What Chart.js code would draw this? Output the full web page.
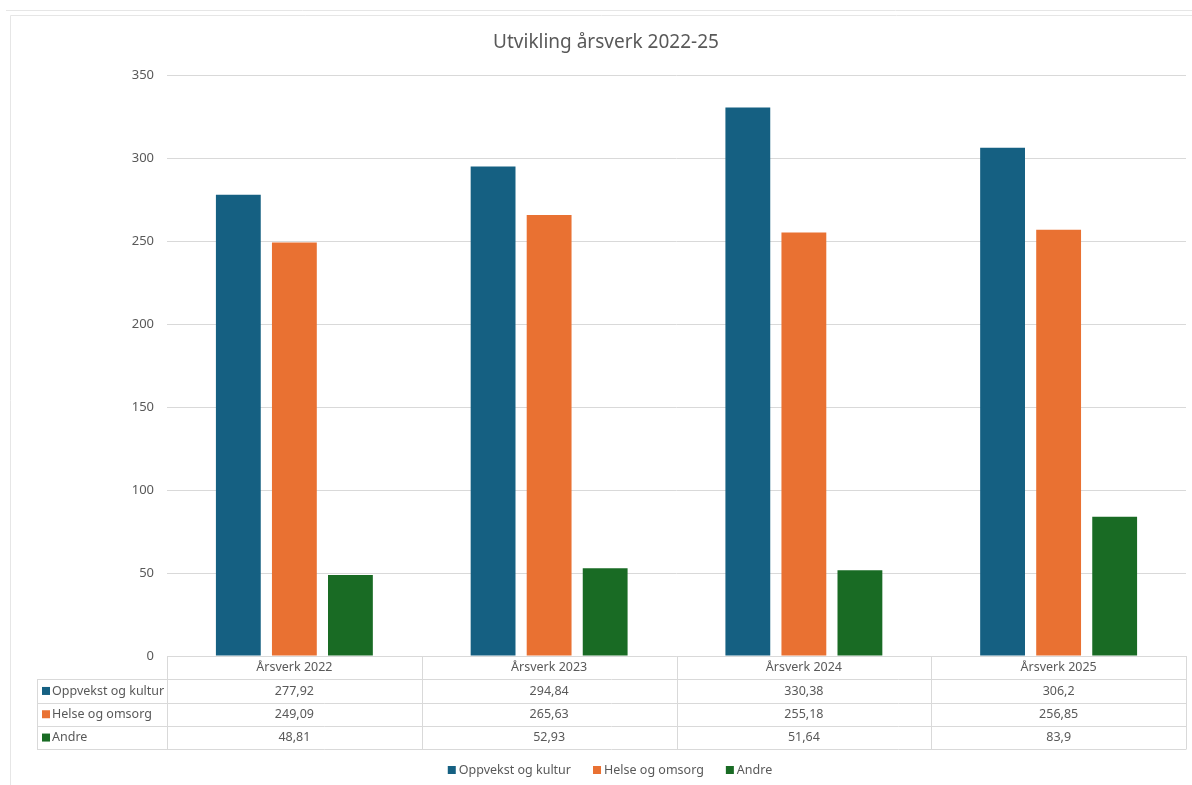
<!DOCTYPE html>
<html>
<head>
<meta charset="utf-8">
<script src="https://cdn.jsdelivr.net/npm/chart.js@4.4.0/dist/chart.umd.min.js"></script>
<style>
  html, body { margin: 0; padding: 0; background: #fff; }
  #wrap { width: 1192px; height: 785px; }
</style>
</head>
<body>
<div id="wrap"><canvas id="chartArsverk" width="1192" height="785"></canvas></div>
<script>
/* data */
const categories = ["Årsverk 2022", "Årsverk 2023", "Årsverk 2024", "Årsverk 2025"];
const oppvekst = [277.92, 294.84, 330.38, 306.2];
const helse = [249.09, 265.63, 255.18, 256.85];
const andre = [48.81, 52.93, 51.64, 83.9];
const yTicks = [0, 50, 100, 150, 200, 250, 300, 350];
const chartTitle = "Utvikling årsverk 2022-25";

const FONT = "'Noto Sans', sans-serif";
const GREY = "#595959";
const LINE = "#d9d9d9";

function formatNo(v) {
    return String(v).replace(".", ",");
}

/* bakgrunn: ramme + tittel */
const framePlugin = {
    id: "frame",
    beforeDraw(chart) {
        const ctx = chart.ctx;
        ctx.save();
        ctx.strokeStyle = "#e6e6e6";
        ctx.lineWidth = 1;
        ctx.beginPath();
        ctx.moveTo(6, 10.5); ctx.lineTo(1192, 10.5);
        ctx.moveTo(10.5, 785); ctx.lineTo(10.5, 15.5); ctx.lineTo(1192, 15.5);
        ctx.stroke();

        ctx.font = "19px " + FONT;
        ctx.fillStyle = GREY;
        ctx.textAlign = "center";
        ctx.textBaseline = "middle";
        ctx.fillText(chartTitle, 606, 43);
        ctx.restore();
    }
};

/* datatabell + legend under grafen */
const tablePlugin = {
    id: "dataTable",
    afterDraw(chart) {
        const ctx = chart.ctx;
        const x = chart.scales.x;
        const area = chart.chartArea;
        const sets = chart.data.datasets;
        const colW = x.width / categories.length;
        const rowH = 23.3;
        const top = area.bottom;
        const labelLeft = 37;

        ctx.save();
        ctx.strokeStyle = LINE;
        ctx.lineWidth = 1;
        ctx.beginPath();
        ctx.moveTo(area.left, top + 0.5); ctx.lineTo(area.right, top + 0.5);
        for (let r = 1; r <= sets.length + 1; r++) {
            const yy = Math.round(top + r * rowH) + 0.5;
            ctx.moveTo(labelLeft, yy);
            ctx.lineTo(area.right, yy);
        }
        const bottom = Math.round(top + (sets.length + 1) * rowH) + 0.5;
        for (let c = 0; c <= categories.length; c++) {
            const xx = Math.round(area.left + c * colW) + 0.5;
            ctx.moveTo(xx, top); ctx.lineTo(xx, bottom);
        }
        ctx.moveTo(labelLeft + 0.5, Math.round(top + rowH) + 0.5);
        ctx.lineTo(labelLeft + 0.5, bottom);
        ctx.stroke();

        ctx.font = "12.5px " + FONT;
        ctx.fillStyle = GREY;
        ctx.textBaseline = "middle";
        ctx.textAlign = "center";
        categories.forEach((c, i) => {
            ctx.fillText(c, x.getPixelForValue(i), top + rowH / 2);
        });
        sets.forEach((ds, r) => {
            const yy = top + (r + 1.5) * rowH;
            ctx.textAlign = "center";
            ctx.fillStyle = GREY;
            ds.data.forEach((v, i) => {
                ctx.fillText(formatNo(v), x.getPixelForValue(i), yy);
            });
            ctx.fillStyle = ds.backgroundColor;
            ctx.fillRect(labelLeft + 5, yy - 4, 8, 8);
            ctx.fillStyle = GREY;
            ctx.textAlign = "left";
            ctx.fillText(ds.label, labelLeft + 15, yy);
        });

        // legend
        const gap = 22;
        const widths = sets.map(ds => 11 + ctx.measureText(ds.label).width);
        const total = widths.reduce((a, b) => a + b, 0) + gap * (sets.length - 1);
        let lx = 610 - total / 2;
        const ly = 770;
        sets.forEach((ds, i) => {
            ctx.fillStyle = ds.backgroundColor;
            ctx.fillRect(lx, ly - 4, 8, 8);
            ctx.fillStyle = GREY;
            ctx.textAlign = "left";
            ctx.fillText(ds.label, lx + 11, ly);
            lx += widths[i] + gap;
        });
        ctx.restore();
    }
};

new Chart(document.getElementById("chartArsverk"), {
    type: "bar",
    data: {
        labels: categories,
        datasets: [
            { label: "Oppvekst og kultur", data: oppvekst, backgroundColor: "#156082" },
            { label: "Helse og omsorg", data: helse, backgroundColor: "#e97132" },
            { label: "Andre", data: andre, backgroundColor: "#196b24" }
        ]
    },
    options: {
        responsive: false,
        animation: false,
        categoryPercentage: 0.66,
        barPercentage: 0.8,
        layout: { padding: { left: 0, right: 6, top: 75, bottom: 129 } },
        plugins: {
            legend: { display: false },
            tooltip: { enabled: false },
            title: { display: false }
        },
        scales: {
            x: {
                grid: { display: false },
                border: { display: false },
                ticks: { display: false },
                afterFit(s) { s.height = 0; }
            },
            y: {
                min: 0,
                max: 350,
                afterBuildTicks(s) { s.ticks = yTicks.map(v => ({ value: v })); },
                grid: { color: LINE, drawTicks: false },
                border: { display: false },
                ticks: {
                    color: GREY,
                    padding: 13,
                    font: { family: FONT, size: 13 }
                },
                afterFit(s) { s.width = 167; }
            }
        }
    },
    plugins: [framePlugin, tablePlugin]
});
</script>
</body>
</html>
